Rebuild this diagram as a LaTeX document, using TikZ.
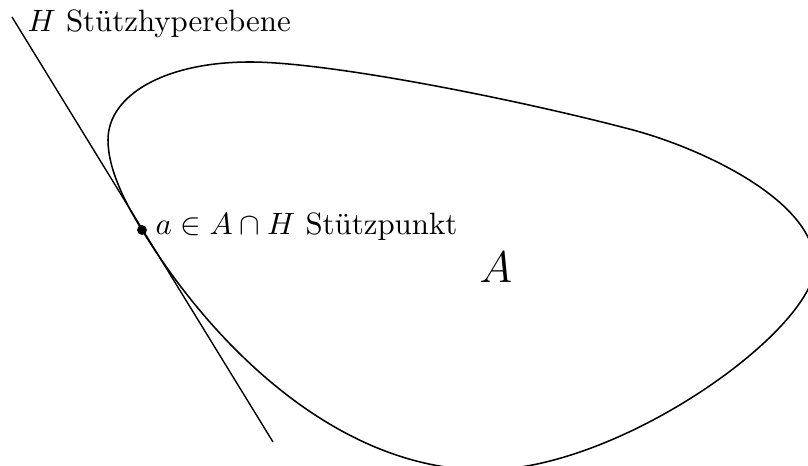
\documentclass[tikz,border=0pt]{standalone}
\usepackage{amsmath,amssymb}

\begin{document}
\begin{tikzpicture}[
    x=0.324pt, y=-0.324pt,
    rand/.style={draw=black, line width=0.5pt},
    hyper/.style={draw=black, line width=0.45pt},
    punkt/.style={circle, fill=black, inner sep=0pt, minimum size=3.2pt},
    lbl/.style={inner sep=0pt, anchor=base west},
  ]
  \useasboundingbox (0,0) rectangle (808,466);

  % the convex set A
  \coordinate (a0) at (142,230);
  \begin{scope}
    \clip (0,0) rectangle (808,466);
    \draw[rand] (a0) .. controls (126,204) and (108,170) .. (108,140)
      .. controls (108,95) and (165,62) .. (250,62)
      .. controls (330,62) and (520,100) .. (633,130)
      .. controls (700,148) and (815,200) .. (815,265)
      .. controls (815,330) and (620,470) .. (485,470)
      .. controls (340,470) and (215,349) .. (a0) -- cycle;
  \end{scope}
  \node[font=\fontsize{15.2}{18}\selectfont] (A) at (496,267) {$A$};

  % supporting hyperplane H and supporting point a
  \coordinate (Htop) at (12,17);
  \coordinate (Hbot) at (273,442);
  \draw[hyper] (Htop) -- (Hbot);
  \node[lbl] (Hlbl) at (27,32) {$H$ Stützhyperebene};

  \node[punkt] (a) at (a0) {};
  \node[lbl] (albl) at (155,235) {$a\in A\cap H$ Stützpunkt};
\end{tikzpicture}
\end{document}
